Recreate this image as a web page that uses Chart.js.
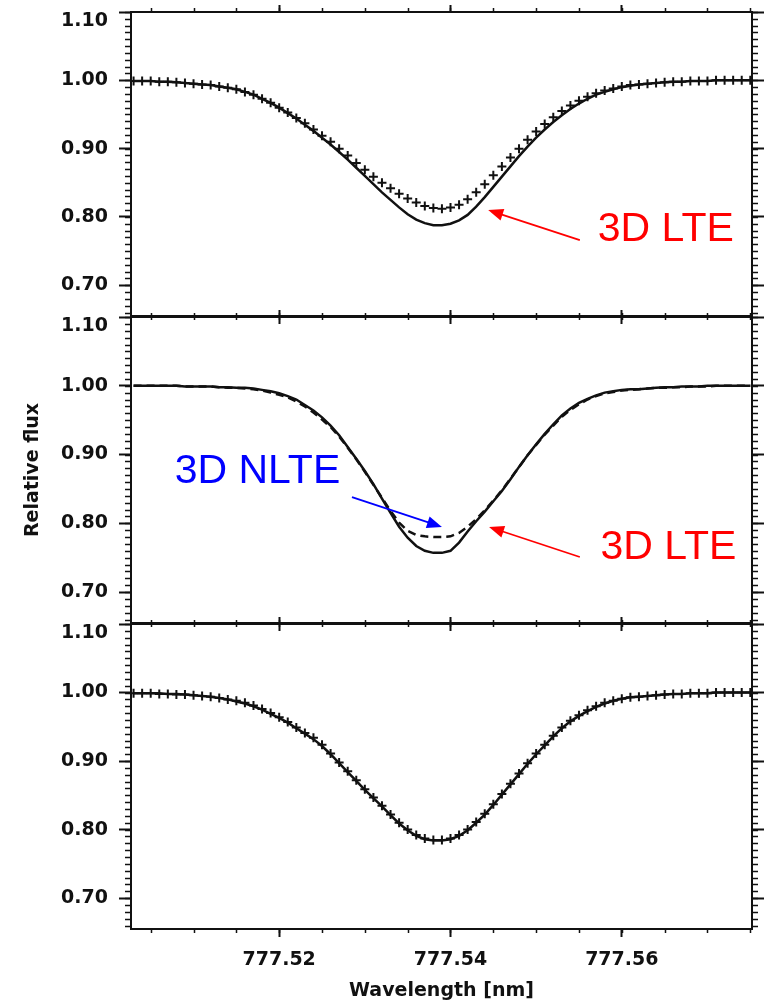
<!DOCTYPE html>
<html>
<head>
<meta charset="utf-8">
<title>O I 777.54 nm line profiles</title>
<script src="https://cdn.jsdelivr.net/npm/chart.js@4.4.1/dist/chart.umd.min.js"></script>
<style>
  html, body { margin: 0; padding: 0; background: #fff; }
  #figure { position: relative; width: 767px; height: 1003px; overflow: hidden; }
  #figure canvas { position: absolute; left: 0; }
</style>
</head>
<body>
<div id="figure">
  <canvas id="panelTop" width="767" height="330" style="top:0"></canvas>
  <canvas id="panelMid" width="767" height="334" style="top:303px"></canvas>
  <canvas id="panelBot" width="767" height="393" style="top:610px"></canvas>
</div>
<script>
/* ---------- data ---------- */
const WAVELENGTH = [
  777.503, 777.504, 777.505, 777.506, 777.507, 777.508, 777.509, 777.510, 777.511, 777.512,
  777.513, 777.514, 777.515, 777.516, 777.517, 777.518, 777.519, 777.520, 777.521, 777.522,
  777.523, 777.524, 777.525, 777.526, 777.527, 777.528, 777.529, 777.530, 777.531, 777.532,
  777.533, 777.534, 777.535, 777.536, 777.537, 777.538, 777.539, 777.540, 777.541, 777.542,
  777.543, 777.544, 777.545, 777.546, 777.547, 777.548, 777.549, 777.550, 777.551, 777.552,
  777.553, 777.554, 777.555, 777.556, 777.557, 777.558, 777.559, 777.560, 777.561, 777.562,
  777.563, 777.564, 777.565, 777.566, 777.567, 777.568, 777.569, 777.570, 777.571, 777.572,
  777.573, 777.574, 777.575
];

// top panel: observed (+) and 3D LTE
const TOP_OBS = [
  0.999, 0.999, 0.999, 0.998, 0.998, 0.997, 0.996, 0.995, 0.994, 0.993,
  0.991, 0.989, 0.987, 0.983, 0.979, 0.973, 0.967, 0.960, 0.953, 0.945,
  0.937, 0.928, 0.919, 0.910, 0.900, 0.890, 0.879, 0.869, 0.859, 0.850,
  0.842, 0.834, 0.827, 0.821, 0.816, 0.813, 0.812, 0.814, 0.818, 0.826,
  0.836, 0.848, 0.861, 0.874, 0.887, 0.900, 0.913, 0.925, 0.936, 0.946,
  0.955, 0.963, 0.970, 0.976, 0.981, 0.985, 0.988, 0.991, 0.993, 0.994,
  0.995, 0.996, 0.997, 0.998, 0.998, 0.999, 0.999, 0.999, 1.000, 1.000,
  1.000, 1.000, 1.000
];
const TOP_LTE = [
  0.999, 0.999, 0.999, 0.998, 0.998, 0.997, 0.996, 0.995, 0.994, 0.993,
  0.991, 0.989, 0.987, 0.983, 0.979, 0.973, 0.967, 0.960, 0.952, 0.944,
  0.935, 0.926, 0.916, 0.906, 0.895, 0.884, 0.872, 0.860, 0.848, 0.836,
  0.825, 0.814, 0.804, 0.796, 0.791, 0.788, 0.788, 0.790, 0.795, 0.803,
  0.815, 0.829, 0.844, 0.859, 0.874, 0.889, 0.903, 0.916, 0.928, 0.939,
  0.949, 0.958, 0.966, 0.973, 0.979, 0.983, 0.987, 0.990, 0.992, 0.994,
  0.995, 0.996, 0.997, 0.998, 0.998, 0.999, 0.999, 0.999, 1.000, 1.000,
  1.000, 1.000, 1.000
];

// middle panel: 3D LTE (solid) and 3D NLTE (dashed)
const MID_LTE = [
  1.000, 1.000, 1.000, 1.000, 1.000, 1.000, 0.999, 0.999, 0.999, 0.999,
  0.998, 0.998, 0.997, 0.997, 0.996, 0.994, 0.992, 0.989, 0.985, 0.980,
  0.972, 0.964, 0.954, 0.942, 0.928, 0.911, 0.894, 0.876, 0.857, 0.836,
  0.815, 0.795, 0.779, 0.767, 0.760, 0.757, 0.757, 0.760, 0.772, 0.788,
  0.803, 0.817, 0.832, 0.847, 0.864, 0.882, 0.899, 0.915, 0.930, 0.944,
  0.957, 0.967, 0.975, 0.981, 0.986, 0.990, 0.992, 0.994, 0.995, 0.995,
  0.996, 0.997, 0.998, 0.998, 0.999, 0.999, 0.999, 1.000, 1.000, 1.000,
  1.000, 1.000, 1.000
];
const MID_NLTE = [
  1.000, 1.000, 1.000, 1.000, 1.000, 1.000, 0.999, 0.999, 0.999, 0.999,
  0.998, 0.997, 0.997, 0.996, 0.995, 0.993, 0.990, 0.987, 0.983, 0.977,
  0.970, 0.961, 0.951, 0.940, 0.926, 0.910, 0.893, 0.875, 0.856, 0.837,
  0.818, 0.801, 0.789, 0.783, 0.781, 0.780, 0.780, 0.781, 0.786, 0.795,
  0.806, 0.819, 0.833, 0.848, 0.865, 0.882, 0.899, 0.914, 0.929, 0.942,
  0.955, 0.965, 0.973, 0.980, 0.985, 0.989, 0.991, 0.993, 0.994, 0.995,
  0.996, 0.997, 0.997, 0.998, 0.998, 0.999, 0.999, 0.999, 1.000, 1.000,
  1.000, 1.000, 1.000
];

// bottom panel: observed (+) and 3D NLTE
const BOT_OBS = [
  0.999, 0.999, 0.999, 0.998, 0.998, 0.997, 0.997, 0.996, 0.995, 0.994,
  0.992, 0.990, 0.988, 0.985, 0.981, 0.976, 0.970, 0.964, 0.957, 0.949,
  0.941, 0.934, 0.924, 0.911, 0.898, 0.885, 0.872, 0.859, 0.847, 0.835,
  0.822, 0.810, 0.800, 0.792, 0.787, 0.785, 0.785, 0.787, 0.792, 0.800,
  0.811, 0.823, 0.837, 0.852, 0.867, 0.882, 0.897, 0.911, 0.924, 0.937,
  0.949, 0.959, 0.967, 0.974, 0.980, 0.985, 0.988, 0.991, 0.993, 0.994,
  0.995, 0.996, 0.997, 0.998, 0.998, 0.999, 0.999, 0.999, 1.000, 1.000,
  1.000, 1.000, 1.000
];
const BOT_NLTE = [
  0.999, 0.999, 0.999, 0.999, 0.998, 0.998, 0.997, 0.996, 0.995, 0.994,
  0.992, 0.990, 0.987, 0.984, 0.980, 0.975, 0.969, 0.963, 0.956, 0.948,
  0.940, 0.932, 0.922, 0.910, 0.897, 0.884, 0.871, 0.858, 0.846, 0.834,
  0.821, 0.809, 0.799, 0.791, 0.786, 0.784, 0.784, 0.786, 0.791, 0.799,
  0.810, 0.822, 0.836, 0.851, 0.866, 0.881, 0.896, 0.910, 0.923, 0.936,
  0.948, 0.958, 0.966, 0.973, 0.979, 0.984, 0.988, 0.991, 0.993, 0.994,
  0.995, 0.996, 0.997, 0.998, 0.998, 0.999, 0.999, 0.999, 1.000, 1.000,
  1.000, 1.000, 1.000
];

const X_TICKS = [777.52, 777.54, 777.56];
const Y_TICKS = [0.70, 0.80, 0.90, 1.00, 1.10];
const X_MIN = 777.5027, X_MAX = 777.5752;
const Y_MIN = 0.655, Y_MAX = 1.10;

/* ---------- styling ---------- */
const INK = '#111';
const TICK_FONT = { family: '"DejaVu Sans", sans-serif', size: 19, weight: 'bold' };
const NOTE_FONT = '41px "Liberation Sans", Arial, sans-serif';

const pts = values => WAVELENGTH.map((w, i) => ({ x: w, y: values[i] }));

const line = (label, values, dash) => ({
  label, data: pts(values), showLine: true,
  borderColor: INK, borderWidth: 2.5, borderDash: dash || [],
  pointRadius: 0, tension: 0
});
const crosses = (label, values) => ({
  label, data: pts(values), showLine: false,
  pointStyle: 'cross', pointRadius: 4.5, pointBorderWidth: 2,
  borderColor: INK, backgroundColor: INK
});

// fixed axis box sizes (and no label overhang padding) so the three frames line up exactly
const sized = px => scale => {
  if (scale.isHorizontal()) scale.height = px; else scale.width = px;
  scale.paddingTop = scale.paddingBottom = scale.paddingLeft = scale.paddingRight = 0;
};

// the top label sits just inside the frame, below its tick
const yLabel = v => (v >= Y_MAX - 1e-9 ? ['', v.toFixed(2)] : v.toFixed(2));

function scalesFor({ top, bottom, xLabels, xTitle, yTitle }) {
  const grid = len => ({ drawOnChartArea: false, drawTicks: true, tickLength: len, tickWidth: 2, tickColor: INK });
  const border = { display: true, width: 2, color: INK };
  const setX = s => { s.ticks = X_TICKS.map(value => ({ value })); };
  const setY = s => { s.ticks = Y_TICKS.map(value => ({ value })); };
  return {
    x: {
      type: 'linear', position: 'bottom', min: X_MIN, max: X_MAX,
      grid: grid(8), border, afterBuildTicks: setX, afterFit: sized(bottom),
      ticks: { display: xLabels, padding: 12, font: TICK_FONT, color: INK, maxRotation: 0, callback: v => v.toFixed(2) },
      title: { display: !!xTitle, text: xTitle, font: TICK_FONT, color: INK, padding: { top: 0, bottom: 1 } }
    },
    xTop: {
      type: 'linear', position: 'top', min: X_MIN, max: X_MAX,
      grid: grid(7), border, afterBuildTicks: setX, afterFit: sized(top),
      ticks: { display: false }
    },
    y: {
      type: 'linear', position: 'left', min: Y_MIN, max: Y_MAX,
      grid: grid(12), border, afterBuildTicks: setY, afterFit: sized(131),
      ticks: { padding: 11, font: { ...TICK_FONT, lineHeight: 1.0 }, color: INK, callback: yLabel },
      title: { display: !!yTitle, text: yTitle, font: TICK_FONT, color: INK, padding: { top: 22, bottom: 0 } }
    },
    yRight: {
      type: 'linear', position: 'right', min: Y_MIN, max: Y_MAX,
      grid: grid(12), border, afterBuildTicks: setY, afterFit: sized(15),
      ticks: { display: false }
    }
  };
}

/* short minor ticks on all four sides of the frame */
const minorTicks = {
  id: 'minorTicks',
  afterDraw(chart) {
    const { ctx, chartArea: a, scales: { x, y } } = chart;
    ctx.save();
    ctx.strokeStyle = INK;
    ctx.lineWidth = 1.5;
    ctx.beginPath();
    for (let k = Math.ceil(X_MIN * 200); k <= Math.floor(X_MAX * 200); k++) {
      const px = Math.round(x.getPixelForValue(k / 200)) + 0.5;
      ctx.moveTo(px, a.bottom); ctx.lineTo(px, a.bottom + 4);
      ctx.moveTo(px, a.top); ctx.lineTo(px, a.top - 4);
    }
    for (let k = Math.ceil(Y_MIN * 100); k <= Math.floor(Y_MAX * 100); k++) {
      const py = Math.round(y.getPixelForValue(k / 100)) + 0.5;
      ctx.moveTo(a.left, py); ctx.lineTo(a.left - 6, py);
      ctx.moveTo(a.right, py); ctx.lineTo(a.right + 6, py);
    }
    ctx.stroke();
    ctx.restore();
  }
};

/* coloured labels with arrows, placed in data coordinates */
const notes = {
  id: 'notes',
  afterDatasetsDraw(chart, args, opts) {
    const { ctx, scales: { x, y } } = chart;
    const px = p => [x.getPixelForValue(p[0]), y.getPixelForValue(p[1])];
    (opts.items || []).forEach(n => {
      ctx.save();
      ctx.fillStyle = ctx.strokeStyle = n.color;
      ctx.font = NOTE_FONT;
      ctx.textBaseline = 'middle';
      const [tx, ty] = px(n.at);
      ctx.fillText(n.text, tx, ty);

      const [x0, y0] = px(n.from), [x1, y1] = px(n.to);
      const ang = Math.atan2(y1 - y0, x1 - x0);
      const c = Math.cos(ang), s = Math.sin(ang);
      const head = 15, half = 6;
      ctx.lineWidth = 1.8;
      ctx.beginPath();
      ctx.moveTo(x0, y0);
      ctx.lineTo(x1 - head * 0.8 * c, y1 - head * 0.8 * s);
      ctx.stroke();
      ctx.beginPath();
      ctx.moveTo(x1, y1);
      ctx.lineTo(x1 - head * c + half * s, y1 - head * s - half * c);
      ctx.lineTo(x1 - head * c - half * s, y1 - head * s + half * c);
      ctx.closePath();
      ctx.fill();
      ctx.restore();
    });
  }
};

function panel(id, datasets, layout, items) {
  return new Chart(document.getElementById(id), {
    type: 'scatter',
    data: { datasets },
    options: {
      responsive: false,
      animation: false,
      devicePixelRatio: 1,
      events: [],
      layout: { padding: 0 },
      plugins: { legend: { display: false }, tooltip: { enabled: false }, notes: { items } },
      scales: scalesFor(layout)
    },
    plugins: [minorTicks, notes]
  });
}

panel('panelTop',
  [line('3D LTE', TOP_LTE), crosses('observed', TOP_OBS)],
  { top: 12, bottom: 14, xLabels: false },
  [{ text: '3D LTE', color: '#ff0000', at: [777.5572, 0.781], from: [777.5551, 0.766], to: [777.5444, 0.810] }]);

panel('panelMid',
  [line('3D LTE', MID_LTE), line('3D NLTE', MID_NLTE, [8, 5])],
  { top: 14, bottom: 14, xLabels: false, yTitle: 'Relative flux' },
  [
    { text: '3D NLTE', color: '#0000ff', at: [777.5078, 0.8746], from: [777.5285, 0.8382], to: [777.5390, 0.7946] },
    { text: '3D LTE', color: '#ff0000', at: [777.5575, 0.7641], from: [777.5551, 0.7510], to: [777.5445, 0.7946] }
  ]);

panel('panelBot',
  [line('3D NLTE', BOT_NLTE), crosses('observed', BOT_OBS)],
  { top: 14, bottom: 74, xLabels: true, xTitle: 'Wavelength [nm]' },
  []);
</script>
</body>
</html>
